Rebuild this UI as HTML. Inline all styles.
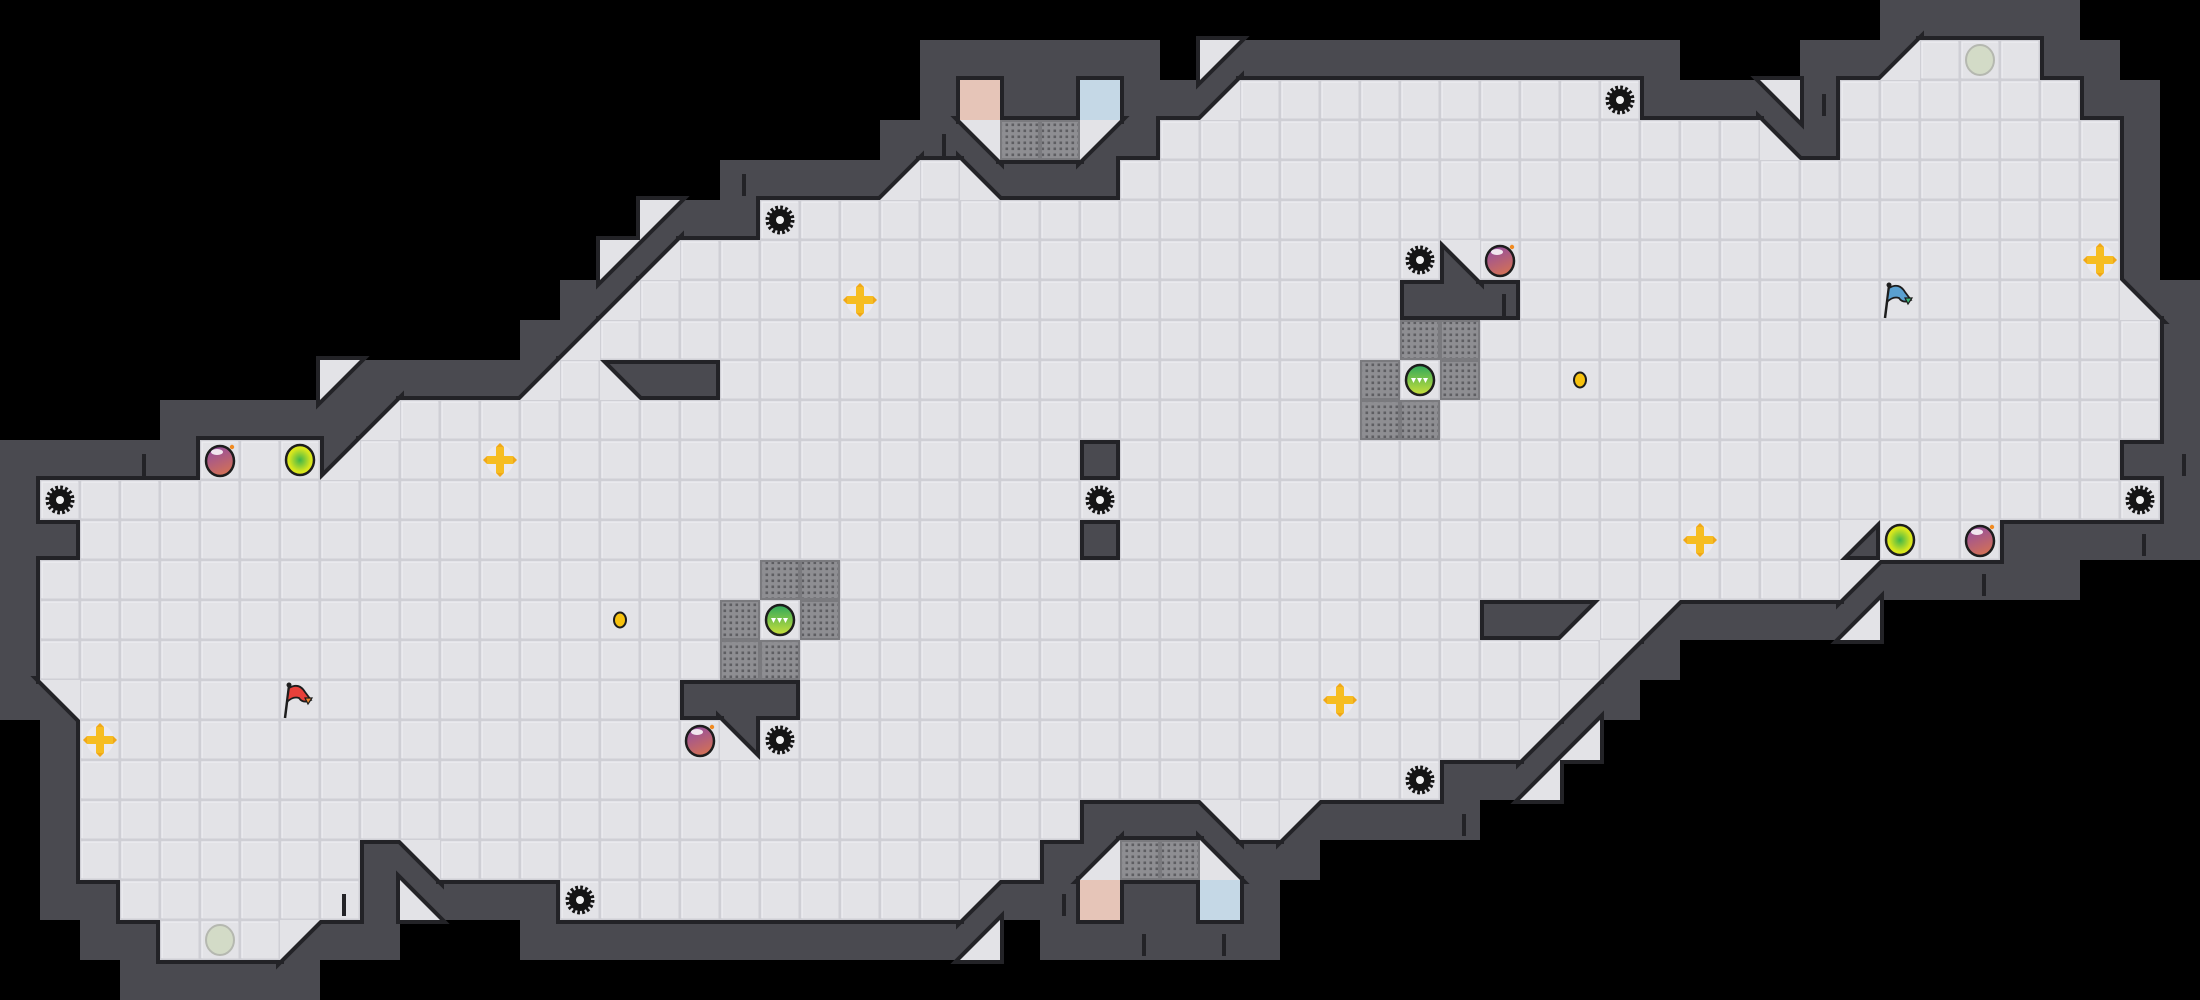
<!DOCTYPE html>
<html><head><meta charset="utf-8">
<style>
html,body{margin:0;padding:0;background:#000;width:2200px;height:1000px;overflow:hidden}
svg{display:block}
</style></head>
<body>
<svg id="s" xmlns="http://www.w3.org/2000/svg" width="2200" height="1000" viewBox="0 0 2200 1000">
<defs>
<pattern id="dots" width="6" height="6" patternUnits="userSpaceOnUse" x="2" y="2">
<rect width="6" height="6" fill="#8e8e92"/>
<rect x="1.5" y="1.5" width="2.6" height="2.6" fill="#5e5e62"/>
</pattern>
<radialGradient id="yg" cx="50%" cy="50%" r="55%"><stop offset="0" stop-color="#3fb54a"/><stop offset="0.7" stop-color="#d6e61e"/><stop offset="1" stop-color="#e4ea1a"/></radialGradient>
<linearGradient id="bg" x1="0" y1="0" x2="0.4" y2="1"><stop offset="0" stop-color="#8d4aa8"/><stop offset="1" stop-color="#cf6e5a"/></linearGradient>
<linearGradient id="gg" x1="0" y1="0" x2="0" y2="1"><stop offset="0" stop-color="#2fa85a"/><stop offset="1" stop-color="#c9e03a"/></linearGradient>
</defs>
<rect width="2200" height="1000" fill="#000"/>
<g id="walls"></g><g id="edge"></g><g id="floor"></g><g id="obj"></g>
</svg>
<script>
var M=[
"...............................................#####...",
".......................######.1###########...##4FFF##..",
".......................#P##B##4FFFFFFFFFF###2#FFFFFF##.",
"......................##2GG1#FFFFFFFFFFFFFFF3#FFFFFFF#.",
"..................####4F3###FFFFFFFFFFFFFFFFFFFFFFFFF#.",
"................1##FFFFFFFFFFFFFFFFFFFFFFFFFFFFFFFFFF#.",
"...............14FFFFFFFFFFFFFFFFFFF2FFFFFFFFFFFFFFFF#.",
"..............#4FFFFFFFFFFFFFFFFFFF###FFFFFFFFFFFFFFF3#",
".............#4FFFFFFFFFFFFFFFFFFFFGGFFFFFFFFFFFFFFFFF#",
"........1####4F3##FFFFFFFFFFFFFFFFGFGFFFFFFFFFFFFFFFFF#",
"....#####4FFFFFFFFFFFFFFFFFFFFFFFFGGFFFFFFFFFFFFFFFFFF#",
"#####FFF4FFFFFFFFFFFFFFFFFF#FFFFFFFFFFFFFFFFFFFFFFFFF##",
"#FFFFFFFFFFFFFFFFFFFFFFFFFFFFFFFFFFFFFFFFFFFFFFFFFFFFF#",
"##FFFFFFFFFFFFFFFFFFFFFFFFF#FFFFFFFFFFFFFFFFFF1FFF#####",
"#FFFFFFFFFFFFFFFFFFGGFFFFFFFFFFFFFFFFFFFFFFFFF1#####....",
"#FFFFFFFFFFFFFFFFFGFGFFFFFFFFFFFFFFFF##4F1####4........",
"#FFFFFFFFFFFFFFFFFGGFFFFFFFFFFFFFFFFFFFF1#.............",
"#2FFFFFFFFFFFFFFF###FFFFFFFFFFFFFFFFFFF1#..............",
".#FFFFFFFFFFFFFFFF3FFFFFFFFFFFFFFFFFFF14...............",
".#FFFFFFFFFFFFFFFFFFFFFFFFFFFFFFFFFF##4................",
".#FFFFFFFFFFFFFFFFFFFFFFFFF###2F1####..................",
".#FFFFFFF#2FFFFFFFFFFFFFFF#4GG3##......................",
".##FFFFFF#3###FFFFFFFFFF1##P##B#.......................",
"..##FFF1##...###########4.######.......................",
"...#####..............................................."
];
var NS="http://www.w3.org/2000/svg";
function el(p,t,a){var e=document.createElementNS(NS,t);for(var k in a)e.setAttribute(k,a[k]);p.appendChild(e);return e;}
var W=document.getElementById('walls'),E=document.getElementById('edge'),F=document.getElementById('floor'),O=document.getElementById('obj');
var WC="#4a4a50",FC="#e3e3e7",EC="#232327";
function pts(a){return a.map(function(p){return p[0]+","+p[1];}).join(" ");}
for(var r=0;r<25;r++){var row=M[r];for(var c=0;c<55;c++){var ch=row.charAt(c)||'.';var x=c*40,y=r*40;
 var TL=[x,y],TR=[x+40,y],BL=[x,y+40],BR=[x+40,y+40];
 if(ch=='#'){el(W,'rect',{x:x,y:y,width:40,height:40,fill:WC});}
 else if(ch=='F'){el(E,'rect',{x:x,y:y,width:40,height:40,fill:'none',stroke:EC,'stroke-width':8});
   el(F,'rect',{x:x,y:y,width:40,height:40,fill:'#cfcfd5'});
   el(F,'rect',{x:x+1.5,y:y+1.5,width:37,height:37,fill:FC});
   el(F,'path',{d:'M'+(x+2)+' '+(y+38)+'V'+(y+2)+'H'+(x+38),stroke:'#ececf0','stroke-width':1.5,fill:'none'});}
 else if(ch=='G'){el(E,'rect',{x:x,y:y,width:40,height:40,fill:'none',stroke:EC,'stroke-width':8});
   el(F,'rect',{x:x,y:y,width:40,height:40,fill:'#7a7a7e'});
   el(F,'rect',{x:x+2,y:y+2,width:36,height:36,fill:'url(#dots)'});}
 else if(ch=='P'||ch=='B'){el(E,'rect',{x:x,y:y,width:40,height:40,fill:'none',stroke:EC,'stroke-width':8});
   el(F,'rect',{x:x,y:y,width:40,height:40,fill:ch=='P'?'#e6c5b8':'#c5d8e6'});}
 else if('1234'.indexOf(ch)>=0){var f,w;
   if(ch=='1'){f=[TL,TR,BL];w=[TR,BR,BL];}
   if(ch=='2'){f=[TL,TR,BR];w=[TL,BR,BL];}
   if(ch=='3'){f=[TL,BR,BL];w=[TL,TR,BR];}
   if(ch=='4'){f=[TR,BR,BL];w=[TL,TR,BL];}
   el(W,'polygon',{points:pts(w),fill:WC});
   el(E,'polygon',{points:pts(f),fill:'none',stroke:EC,'stroke-width':8,'stroke-linejoin':'miter'});
   el(F,'polygon',{points:pts(f),fill:FC});}
}}
function C(c,r){return [c*40+20,r*40+20];}
function gear(c,r){var p=C(c,r),g=el(O,'g',{});
 el(g,'circle',{cx:p[0],cy:p[1],r:12,fill:'none',stroke:'#151515','stroke-width':5,'stroke-dasharray':'2.6 2.1'});
 el(g,'circle',{cx:p[0],cy:p[1],r:11,fill:'#151515'});
 el(g,'circle',{cx:p[0],cy:p[1],r:4,fill:'#f2f2f2'});}
function bomb(c,r){var p=C(c,r),g=el(O,'g',{});
 el(g,'ellipse',{cx:p[0],cy:p[1]+1,rx:14,ry:15,fill:'url(#bg)',stroke:'#1d1d1d','stroke-width':2.5});
 el(g,'ellipse',{cx:p[0]-3,cy:p[1]-8,rx:6,ry:3,fill:'#fff',opacity:0.85});
 el(g,'circle',{cx:p[0]+12,cy:p[1]-13,r:2.2,fill:'#f08a20'});}
function yorb(c,r){var p=C(c,r);el(O,'ellipse',{cx:p[0],cy:p[1],rx:14,ry:15,fill:'url(#yg)',stroke:'#1d1d1d','stroke-width':2.5});}
function plus(c,r){var p=C(c,r),g=el(O,'g',{}),x=p[0],y=p[1];
 el(g,'ellipse',{cx:x,cy:y,rx:14,ry:15,fill:'#eceaf0',opacity:0.9});
 el(g,'path',{d:'M'+(x-4)+' '+(y-13)+'h8v9h9v8h-9v9h-8v-9h-9v-8h9z',fill:'#f6bd22'});
 el(g,'path',{d:'M'+x+' '+(y-17)+'l-4 4h8zM'+x+' '+(y+17)+'l-4 -4h8zM'+(x-17)+' '+y+'l4 -4v8zM'+(x+17)+' '+y+'l-4 -4v8z',fill:'#f0a818'});}
function coin(c,r){var p=C(c,r);el(O,'ellipse',{cx:p[0],cy:p[1],rx:6,ry:7.5,fill:'#f7c20e',stroke:'#1d1d1d','stroke-width':2});}
function gorb(c,r){var p=C(c,r),g=el(O,'g',{}),x=p[0],y=p[1];
 el(g,'ellipse',{cx:x,cy:y,rx:14,ry:15,fill:'url(#gg)',stroke:'#1d1d1d','stroke-width':2.5});
 el(g,'path',{d:'M'+(x-9)+' '+(y-2)+'h5l-2.5 5zM'+(x-3)+' '+(y-2)+'h5l-2.5 5zM'+(x+3)+' '+(y-2)+'h5l-2.5 5z',fill:'#fff'});}
function ghost(c,r){var p=C(c,r);el(O,'ellipse',{cx:p[0],cy:p[1],rx:14,ry:15,fill:'#d3dbc7',stroke:'#b5b8b0','stroke-width':2});}
function flag(c,r,col,col2){var x=c*40,y=r*40,g=el(O,'g',{});
 el(g,'line',{x1:x+5,y1:y+38,x2:x+9,y2:y+6,stroke:'#1d1d1d','stroke-width':2.5});
 el(g,'circle',{cx:x+9,cy:y+5,r:2.5,fill:'#1d1d1d'});
 el(g,'path',{d:'M'+(x+9)+' '+(y+8)+'q10 -6 16 4l6 8q-8 4 -12 -2q-6 -2 -12 4z',fill:col,stroke:'#1d1d1d','stroke-width':1.8});
 el(g,'path',{d:'M'+(x+25)+' '+(y+18)+'l7 0l-4 6z',fill:col2,stroke:'#1d1d1d','stroke-width':1.2});}
[[1,12],[19,5],[27,12],[35,6],[40,2],[53,12],[19,18],[14,22],[35,19]].forEach(function(a){gear(a[0],a[1]);});
[[5,11],[17,18],[37,6],[49,13]].forEach(function(a){bomb(a[0],a[1]);});
[[7,11],[47,13]].forEach(function(a){yorb(a[0],a[1]);});
[[12,11],[2,18],[21,7],[52,6],[42,13],[33,17]].forEach(function(a){plus(a[0],a[1]);});
[[15,15],[39,9]].forEach(function(a){coin(a[0],a[1]);});
[[19,15],[35,9]].forEach(function(a){gorb(a[0],a[1]);});
[[5,23],[49,1]].forEach(function(a){ghost(a[0],a[1]);});
flag(7,17,'#e8403a','#f08a30');
flag(47,7,'#5aa0d0','#3cb878');
// wall notch marks
[[18.6,4.2],[23.6,3.2],[3.6,11.2],[45.6,2.2],[53.6,13.2],[49.6,14.2],[36.6,20.2],[8.6,22.2],[26.6,22.2],[28.6,23.2],[30.6,23.2],[37.6,7.2],[54.6,11.2],[35.6,0.2]].forEach(function(a){
 if(a[1]<1&&a[0]>30)return;
 el(O,'rect',{x:a[0]*40-2,y:a[1]*40+6,width:4,height:22,fill:'#232327'});});
</script>
</body></html>
